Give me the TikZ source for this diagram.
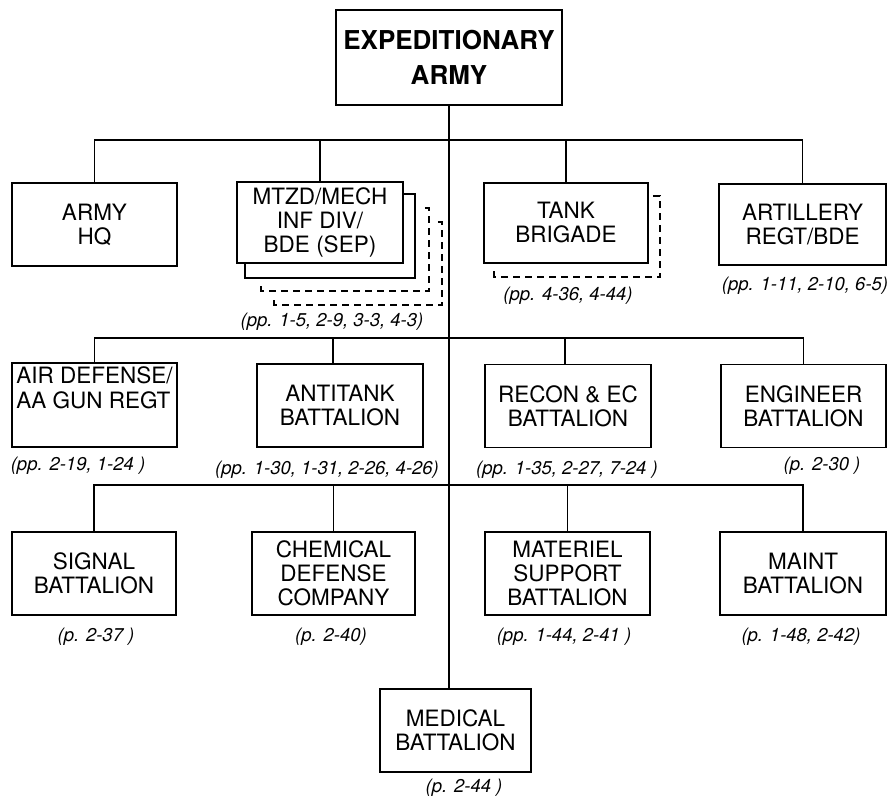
\documentclass[tikz,border=0pt]{standalone}
\usepackage{fontspec}
\setmainfont{TeX Gyre Heros}
\begin{document}
\begin{tikzpicture}[x=1pt, y=-1pt,
        unitbox/.style={draw, line width=1.8pt, minimum width=165pt, minimum height=83pt,
            inner sep=0pt, align=center, font=\fontsize{22.5}{24}\selectfont},
        pagelabel/.style={inner sep=0pt, font=\fontsize{18.5}{20}\selectfont\itshape},
        link/.style={line width=1.6pt},
        ghost/.style={line width=1.3pt, dash pattern=on 7pt off 5pt}]
        \useasboundingbox (0,0) rectangle (888,799);

        % Headquarters
        \node[unitbox, minimum width=226pt, minimum height=95pt,
            font=\fontsize{26}{35}\selectfont\bfseries] (army) at (449,57.5) {EXPEDITIONARY\\ARMY};

        % First row
        \node[unitbox] (armyhq) at (94.5,224.5) {ARMY\\HQ};
        \node[unitbox, minimum width=166pt, minimum height=81pt] (mech) at (320,222.5) {MTZD/MECH\\INF DIV/\\BDE (SEP)};
        \node[unitbox, minimum width=164pt, minimum height=80pt] (tank) at (566,223) {TANK\\BRIGADE};
        \node[unitbox, minimum width=167pt, minimum height=81pt] (artillery) at (802.5,224.5) {ARTILLERY\\REGT/BDE};

        \node[pagelabel] (mechpp) at (332,322) {(pp. 1-5, 2-9, 3-3, 4-3)};
        \node[pagelabel] (tankpp) at (568,296) {(pp. 4-36, 4-44)};
        \node[pagelabel] (artillerypp) at (805,286) {(pp. 1-11, 2-10, 6-5)};

        % Stacked copies behind
        \draw[line width=1.8pt] ([shift={(0,13)}]mech.north east) -| ([shift={(11,14)}]mech.south east)
            -| ([shift={(9,0)}]mech.south west);
        \foreach \dx/\dy in {25/27, 38/41}
            \draw[ghost] ([shift={(\dx-4,\dy)}]mech.north east) -| ([shift={(\dx,\dy)}]mech.south east)
                -| ([shift={(\dx,\dy-6)}]mech.south west);
        \draw[ghost] ([shift={(4,14)}]tank.north east) -| ([shift={(11,13)}]tank.south east)
            -| ([shift={(11,7)}]tank.south west);

        % Second row
        \node[unitbox, minimum height=84pt] (airdef) at (94.5,405) {};
        \node[anchor=north, inner sep=0pt, align=left, font=\fontsize{22.5}{25}\selectfont]
            (airdeftext) at ([yshift=-4pt]airdef.north) {AIR DEFENSE/\\AA GUN REGT};
        \node[unitbox, minimum width=166pt] (antitank) at (340,405.5) {ANTITANK\\BATTALION};
        \node[unitbox, minimum width=166pt] (recon) at (568,406) {RECON \& EC\\BATTALION};
        \node[unitbox] (engineer) at (803.5,406) {ENGINEER\\BATTALION};

        \node[pagelabel] (airdefpp) at (78,466) {(pp. 2-19, 1-24 )};
        \node[pagelabel] (antitankpp) at (327,470) {(pp. 1-30, 1-31, 2-26, 4-26)};
        \node[pagelabel] (reconpp) at (567,470) {(pp. 1-35, 2-27, 7-24 )};
        \node[pagelabel] (engineerpp) at (822,466) {(p. 2-30 )};

        % Third row
        \node[unitbox, minimum width=164pt] (signal) at (94,573.5) {SIGNAL\\BATTALION};
        \node[unitbox, minimum width=163pt] (chemical) at (333.5,573.5) {CHEMICAL\\DEFENSE\\COMPANY};
        \node[unitbox] (materiel) at (567.5,573.5) {MATERIEL\\SUPPORT\\BATTALION};
        \node[unitbox, minimum width=166pt] (maint) at (803,573.5) {MAINT\\BATTALION};

        \node[pagelabel] (signalpp) at (96,637) {(p. 2-37 )};
        \node[pagelabel] (chemicalpp) at (331,637) {(p. 2-40)};
        \node[pagelabel] (materielpp) at (564,637) {(pp. 1-44, 2-41 )};
        \node[pagelabel] (maintpp) at (801,637) {(p. 1-48, 2-42)};

        % Medical
        \node[unitbox, minimum width=151pt] (medical) at (455.5,730.5) {MEDICAL\\BATTALION};
        \node[pagelabel] (medicalpp) at (464,788) {(p. 2-44 )};

        % Connectors
        \coordinate (bar1) at (449,140);
        \coordinate (bar2) at (449,338);
        \coordinate (bar3) at (449,485);
        \draw[link] (army.south) -- (army.south |- medical.north);
        \draw[link] (armyhq.north) -- (armyhq.north |- bar1) -- (artillery.north |- bar1) -- (artillery.north);
        \draw[link] (mech.north) -- (mech.north |- bar1);
        \draw[link] (tank.north) -- (tank.north |- bar1);
        \draw[link] (airdef.north) -- (airdef.north |- bar2) -- (engineer.north |- bar2) -- (engineer.north);
        \draw[link] ([xshift=-7pt]antitank.north) -- ([xshift=-7pt]antitank.north |- bar2);
        \draw[link] ([xshift=-3pt]recon.north) -- ([xshift=-3pt]recon.north |- bar2);
        \draw[link] (signal.north) -- (signal.north |- bar3) -- (maint.north |- bar3) -- (maint.north);
        \draw[link] (chemical.north) -- (chemical.north |- bar3);
        \draw[link] (materiel.north) -- (materiel.north |- bar3);
    \end{tikzpicture}
\end{document}
